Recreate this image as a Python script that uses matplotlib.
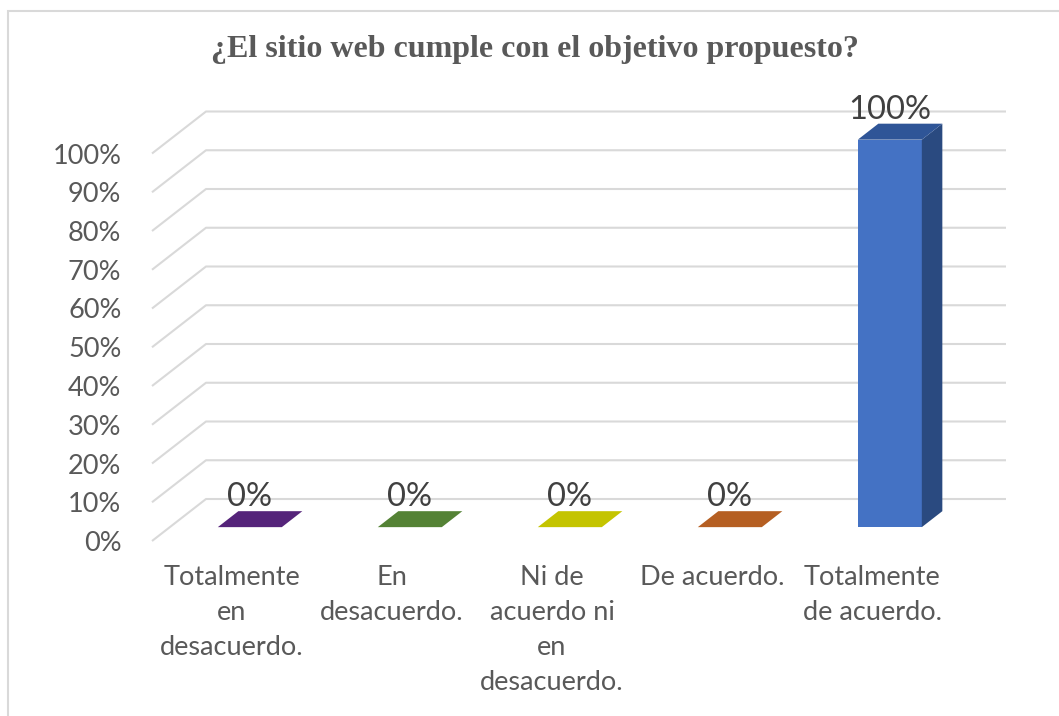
import matplotlib
matplotlib.use('Agg')
from matplotlib import pyplot as plt
from matplotlib.patches import Polygon, Rectangle

# data
categories = ['Totalmente\nen\ndesacuerdo.', 'En\ndesacuerdo.', 'Ni de\nacuerdo ni\nen\ndesacuerdo.',
              'De acuerdo.', 'Totalmente\nde acuerdo.']
values = [0, 0, 0, 0, 100]
labels = ['0%', '0%', '0%', '0%', '100%']
yticks = list(range(0, 101, 10))
ytick_labels = [f'{t}%' for t in yticks]
front_colors = ['#55247A', '#548235', '#C4C400', '#B55F22', '#4472C4']
top_colors = ['#55247A', '#548235', '#C4C400', '#B55F22', '#2F5597']
side_colors = ['#3A1855', '#3A5A25', '#8A8A00', '#7F4218', '#2A4A80']

W, H = 1059, 716
fig = plt.figure(figsize=(W / 100, H / 100), dpi=100)
ax = fig.add_axes([152 / W, 1 - 541 / H, 800 / W, 387.5 / H])
ax.set_xlim(-0.5, 4.5)
ax.set_ylim(0, 100)
for s in ax.spines.values():
    s.set_visible(False)

# depth of the fake 3d box (front plane -> back plane)
dx = 54 / 160
dy = 42 / 3.875
f0, f1 = 0.33, 0.71  # bar front / back depth fraction
bw = 0.4
grid_c = '#D9D9D9'

for t in yticks:
    ax.plot([-0.5, -0.5 + dx, 4.5 + dx], [t, t + dy, t + dy], color=grid_c, lw=1.5,
            clip_on=False, zorder=1, solid_capstyle='butt')

ddx = (f1 - f0) * dx
ddy = (f1 - f0) * dy
for i, v in enumerate(values):
    x0 = i - bw / 2 + f0 * dx
    x1 = x0 + bw
    y0 = f0 * dy
    if v > 0:
        ax.add_patch(Rectangle((x0, y0), bw, v, facecolor=front_colors[i], edgecolor='none',
                               clip_on=False, zorder=3))
        ax.add_patch(Polygon([(x1, y0), (x1 + ddx, y0 + ddy), (x1 + ddx, y0 + ddy + v), (x1, y0 + v)],
                             closed=True, facecolor=side_colors[i], edgecolor='none', clip_on=False, zorder=3))
    ax.add_patch(Polygon([(x0, y0 + v), (x1, y0 + v), (x1 + ddx, y0 + v + ddy), (x0 + ddx, y0 + v + ddy)],
                         closed=True, facecolor=top_colors[i], edgecolor='none', clip_on=False, zorder=3))
    ax.text(i + f0 * dx, y0 + v + ddy + 1.3, labels[i], ha='center', va='baseline',
            fontsize=23.5, color='#404040', family='Lato', zorder=4, clip_on=False)

ax.set_yticks(yticks)
ax.set_yticklabels(ytick_labels, family='Lato', fontsize=19.5, color='#595959')
ax.set_xticks(range(len(categories)))
ax.set_xticklabels(categories, family='Lato', fontsize=19.5, color='#595959', linespacing=1.5, va='top')
ax.tick_params(axis='y', length=0, pad=22)
ax.tick_params(axis='x', length=0, pad=17)

fig.text(535 / W, 1 - 50 / H, '¿El sitio web cumple con el objetivo propuesto?', ha='center', va='center',
         family='Liberation Serif', fontweight='bold', fontsize=23, color='#595959')

fig.add_artist(Rectangle((8 / W, -0.1), 1.2, 1 - 11 / H + 0.1, transform=fig.transFigure,
                         fill=False, edgecolor=grid_c, lw=1.5))

fig.savefig('out.png', dpi=100)
